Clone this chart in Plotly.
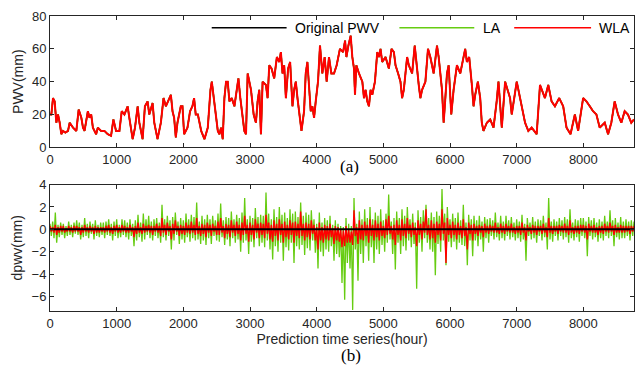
import plotly.graph_objects as go
from plotly.subplots import make_subplots

# ---- top panel: PWV (mm) read at irregular hours ----
pwv_hours = [0,20,45,70,95,120,145,170,195,230,270,295,345,395,430,470,495,518,568,593,618,643,692,717,767,817,866,916,951,991,
             1041,1076,1116,1165,1190,1240,1275,1315,1340,1389,1424,1464,1489,1539,1564,1613,1663,1703,1738,1773,1813,1838,1862,1887,1912,1962,1987,2012,2062,2101,
             2136,2161,2186,2218,2268,2317,2367,2407,2427,2457,2492,2517,2541,2566,2591,2616,2641,2666,2691,2726,2766,2806,2826,2855,2890,2915,2940,2965,2990,3015,
             3055,3089,3114,3139,3164,3189,3239,3264,3289,3323,3363,3403,3438,3463,3488,3513,3538,3572,3602,3637,3662,3687,3712,3752,3772,3811,3836,3861,3886,3911,
             3936,3961,3986,4020,4050,4085,4120,4150,4185,4220,4260,4300,4349,4396,4426,4446,4476,4510,4535,4560,4575,4595,4635,4685,4710,4734,4759,4784,4809,4834,
             4874,4909,4934,4958,4983,5033,5083,5123,5158,5183,5222,5257,5282,5307,5332,5357,5382,5432,5471,5506,5531,5556,5581,5631,5670,5705,5755,5805,5830,5880,
             5905,5930,5955,5980,6019,6054,6104,6154,6204,6228,6253,6288,6328,6353,6378,6418,6453,6477,6502,6553,6603,6653,6700,6727,6777,6827,6901,6926,7001,7076,
             7126,7175,7225,7300,7350,7424,7474,7524,7574,7638,7698,7748,7808,7873,7922,7997,8047,8097,8146,8196,8246,8321,8371,8420,8470,8520,8570,8620,8669,8719,8760]
pwv = [20,20,30,28,15,20,15,8,10,9,10,15,12,10,23,18,12,10,22,18,20,12,8,12,10,10,8,7,17,10,
       10,22,20,25,18,5,12,25,15,5,25,28,20,27,15,5,15,30,25,28,32,22,18,6,15,25,25,8,12,22,
       25,30,20,20,10,5,12,35,40,30,18,10,8,12,5,30,40,40,28,30,25,35,42,30,20,10,8,45,40,35,
       20,15,28,35,8,40,38,30,50,48,42,55,52,58,45,50,30,48,52,25,35,40,30,15,10,22,45,52,35,22,
       25,18,28,40,62,45,55,40,55,45,45,50,60,58,65,55,62,68,55,48,32,50,45,40,30,35,28,25,35,32,
       40,58,55,60,52,55,48,60,58,50,45,40,30,35,45,55,50,45,62,45,38,30,35,40,60,55,45,62,55,35,
       15,30,45,50,20,35,50,45,55,60,52,55,38,25,32,40,30,15,10,15,17,12,28,40,12,40,30,20,40,25,
       15,10,12,8,38,30,38,28,25,30,25,12,8,20,10,30,28,25,22,20,12,15,8,15,28,20,15,22,20,15,17]
la_pwv = pwv
wla_pwv = pwv

# ---- bottom panel: prediction errors dpwv (mm), every 20 h ----
d_hours = list(range(0, 8761, 20))
d_la = [
    0.5,-0.6,0.7,-0.8,1.5,-1.2,0.4,-0.7,0.6,-0.5,0.5,-0.8,0.3,-0.6,0.7,-0.5,0.4,-0.7,0.6,-0.4,
    0.8,-0.5,0.6,-0.9,0.4,-0.7,1.0,-0.6,0.5,-0.8,0.7,-0.4,0.5,-0.9,0.8,-0.6,0.4,-0.7,0.6,-0.5,
    0.6,-0.8,0.7,-0.5,0.9,-0.6,0.5,-1.0,0.7,-0.6,0.9,-0.8,0.4,-0.7,0.9,-0.5,0.8,-0.7,0.6,-0.9,
    0.9,-0.6,0.5,-1.5,0.8,-1.0,1.3,-0.7,0.6,-1.1,1.4,-0.9,0.9,-0.5,1.2,-0.8,0.7,-1.0,0.9,-0.6,
    1.0,-0.8,0.6,-1.2,2.2,-0.7,0.9,-1.0,1.2,-0.6,0.8,-1.8,1.1,-1.0,1.5,-0.5,0.7,-1.3,1.0,-0.9,
    0.8,-1.2,1.4,-0.7,0.9,-1.1,1.3,-0.8,1.1,-1.0,2.4,-0.9,0.7,-1.3,1.2,-1.0,0.9,-1.4,1.3,-0.8,
    0.9,-1.3,1.2,-0.6,0.8,-1.0,1.4,-1.1,2.3,-0.7,0.8,-1.4,1.1,-0.9,1.0,-1.5,1.6,-0.8,0.9,-1.2,
    1.3,-0.9,1.0,-2.0,1.5,-1.2,2.8,-1.0,0.9,-2.2,1.2,-1.1,1.0,-1.6,1.9,-0.8,1.1,-1.5,1.3,-1.2,
    1.2,-1.6,3.3,-1.0,1.4,-1.8,0.9,-2.7,1.8,-1.5,1.1,-2.0,2.0,-1.2,1.3,-2.8,1.5,-1.6,1.0,-1.9,
    1.8,-1.2,1.4,-3.0,1.6,-1.5,1.1,-1.8,2.4,-1.4,1.2,-2.3,1.5,-1.7,1.3,-1.9,1.7,-1.0,0.9,-2.1,
    0.5,-3.5,1.5,-2.0,0.6,-2.4,1.0,-1.8,0.8,-2.0,1.2,-1.5,0.4,-2.8,0.8,-2.2,0.5,-2.5,0.3,-4.8,
    0.2,-6.3,1.0,-3.0,0.5,-3.5,0.3,-7.2,2.8,-1.8,0.5,-4.6,1.6,-2.2,0.9,-3.0,1.8,-1.5,1.0,-2.8,
    2.0,-1.6,0.9,-3.0,1.5,-1.8,1.2,-2.2,1.8,-1.4,0.8,-2.0,1.4,-1.2,3.1,-0.9,0.7,-2.2,1.0,-3.6,
    1.6,-1.2,1.0,-2.2,1.8,-1.5,1.2,-1.9,2.0,-1.0,0.9,-1.6,1.4,-1.3,0.6,-5.3,1.7,-1.2,1.1,-2.0,
    1.7,-0.8,2.2,-1.2,1.0,-1.8,1.5,-2.0,1.1,-4.1,1.6,-1.3,1.2,-2.0,3.6,-1.0,1.4,-3.2,2.0,-1.1,
    0.9,-1.6,1.4,-1.1,1.0,-1.8,1.5,-1.2,0.8,-1.4,2.2,-1.5,0.6,-3.2,1.3,-1.0,0.9,-2.4,1.2,-1.0,
    0.8,-1.5,1.2,-0.9,0.7,-2.0,1.1,-0.8,0.9,-1.2,1.0,-0.6,0.8,-0.9,1.5,-0.7,0.6,-1.0,1.2,-0.8,
    0.7,-1.0,1.2,-0.6,0.8,-0.9,1.1,-0.7,0.6,-1.0,0.9,-0.8,0.7,-1.1,1.3,-0.9,0.5,-2.8,1.0,-0.6,
    0.6,-0.9,1.1,-0.8,0.7,-1.2,0.9,-0.6,0.8,-1.0,1.2,-0.7,0.6,-1.8,2.8,-0.9,0.7,-1.1,0.9,-0.6,
    0.7,-1.0,1.0,-0.6,0.8,-0.9,1.1,-0.7,0.9,-1.2,1.8,-0.8,0.6,-1.0,0.9,-0.7,0.8,-1.1,1.0,-0.6,
    1.0,-0.8,0.7,-2.4,1.1,-0.6,0.8,-0.9,1.0,-0.7,0.6,-1.1,0.9,-0.8,0.7,-1.0,1.2,-0.6,0.7,-0.8,
    1.7,-0.6,0.8,-1.5,1.0,-0.7,0.6,-0.9,1.1,-0.8,0.7,-0.8,0.9,-0.6,0.7,-1.0,0.8,-0.6,0.7]
d_wla = [
    0.3,-0.2,0.2,-0.3,0.4,-0.5,0.2,-0.3,0.3,-0.2,0.3,-0.3,0.1,-0.2,0.3,-0.2,0.2,-0.3,0.3,-0.2,
    0.3,-0.2,0.2,-0.5,0.2,-0.3,0.4,-0.2,0.2,-0.3,0.3,-0.2,0.2,-0.4,0.3,-0.3,0.2,-0.3,0.2,-0.2,
    0.2,-0.3,0.3,-0.2,0.4,-0.3,0.2,-0.4,0.3,-0.2,0.4,-0.3,0.2,-0.3,0.4,-0.2,0.3,-0.3,0.2,-0.3,
    0.4,-0.2,0.2,-0.7,0.3,-0.4,0.6,-0.3,0.2,-0.4,0.5,-0.3,0.3,-0.2,0.4,-0.3,0.3,-0.5,0.3,-0.2,
    0.5,-0.3,0.3,-0.6,1.0,-0.3,0.4,-0.5,0.6,-0.2,0.3,-0.9,0.5,-0.4,0.8,-0.2,0.3,-0.6,0.4,-0.4,
    0.3,-0.5,0.6,-0.3,0.4,-0.4,0.7,-0.3,0.4,-0.5,1.0,-0.4,0.3,-0.6,0.5,-0.4,0.4,-0.7,0.6,-0.3,
    0.4,-0.6,0.5,-0.2,0.3,-0.5,0.7,-0.5,1.0,-0.3,0.3,-0.8,0.5,-0.4,0.4,-0.7,0.8,-0.3,0.4,-0.6,
    0.7,-0.4,0.4,-1.0,0.6,-0.5,1.2,-0.4,0.4,-1.1,0.6,-0.5,0.4,-0.9,0.9,-0.3,0.5,-0.8,0.6,-0.5,
    0.5,-0.8,1.3,-0.4,0.6,-0.9,0.4,-1.1,0.8,-0.6,0.5,-1.0,0.9,-0.5,0.5,-1.2,0.7,-0.7,0.4,-0.9,
    0.8,-0.5,0.6,-1.2,0.7,-0.6,0.5,-0.8,1.6,-0.6,0.5,-1.0,0.6,-0.7,0.5,-0.9,0.8,-0.4,0.4,-1.0,
    0.2,-1.8,0.6,-1.0,0.2,-1.2,0.4,-0.9,0.3,-1.0,0.5,-0.7,0.1,-1.3,0.3,-1.0,0.2,-1.1,0.0,-1.6,
    -0.1,-1.5,0.3,-1.2,0.0,-1.2,-0.2,-1.4,1.7,-0.6,0.2,-1.3,0.8,-0.9,0.4,-1.0,0.7,-0.6,0.4,-1.2,
    0.9,-0.6,0.4,-1.0,0.8,-0.7,0.5,-1.0,0.7,-0.6,0.3,-0.8,0.9,-0.5,1.2,-0.4,0.3,-0.9,0.4,-1.4,
    0.8,-0.5,0.4,-1.0,0.9,-0.6,0.5,-0.8,1.0,-0.4,0.4,-0.7,0.6,-0.5,0.2,-1.5,0.8,-0.5,0.5,-0.9,
    0.7,-0.3,1.8,-0.5,0.4,-0.9,0.8,-0.8,0.5,-1.2,0.7,-0.5,0.5,-1.0,1.8,-0.4,0.6,-3.0,1.0,-0.5,
    0.4,-0.8,0.7,-0.5,0.4,-0.9,0.6,-0.5,0.3,-0.8,0.9,-0.6,0.2,-1.8,0.6,-0.4,0.4,-1.0,0.5,-0.4,
    0.3,-0.6,0.4,-0.3,0.3,-0.7,0.5,-0.3,0.3,-0.4,0.4,-0.2,0.3,-0.3,0.6,-0.3,0.2,-0.4,0.5,-0.3,
    0.3,-0.4,0.5,-0.2,0.3,-0.3,0.5,-0.3,0.2,-0.4,0.3,-0.3,0.3,-0.5,0.6,-0.3,0.2,-1.0,0.4,-0.2,
    0.2,-0.4,0.4,-0.3,0.3,-0.5,0.3,-0.2,0.3,-0.4,0.5,-0.3,0.2,-0.7,1.0,-0.3,0.3,-0.4,0.3,-0.2,
    0.3,-0.4,0.4,-0.2,0.3,-0.3,0.5,-0.3,0.3,-0.5,0.8,-0.3,0.2,-0.4,0.3,-0.3,0.3,-0.4,0.4,-0.2,
    0.4,-0.3,0.3,-0.9,0.5,-0.2,0.3,-0.3,0.4,-0.3,0.2,-0.5,0.3,-0.3,0.3,-0.4,0.5,-0.2,0.3,-0.3,
    0.6,-0.2,0.3,-0.5,0.4,-0.3,0.2,-0.3,0.4,-0.3,0.3,-0.3,0.3,-0.2,0.3,-0.4,0.3,-0.2,0.3]
d_orig_hours = [0, 8760]
d_orig = [0, 0]

x_ticks = [0, 1000, 2000, 3000, 4000, 5000, 6000, 7000, 8000]
top_ticks = [0, 20, 40, 60, 80]
bot_ticks = [-6, -4, -2, 0, 2, 4]

BLACK = "#000000"
GREEN = "#66CC11"
RED = "#FF0000"
AX = "#262626"

fig = make_subplots(rows=2, cols=1, vertical_spacing=0.0)

fig.add_trace(go.Scatter(x=pwv_hours, y=pwv, mode="lines", line=dict(color=BLACK, width=1.5), showlegend=False), 1, 1)
fig.add_trace(go.Scatter(x=pwv_hours, y=la_pwv, mode="lines", line=dict(color=GREEN, width=1.5), showlegend=False), 1, 1)
fig.add_trace(go.Scatter(x=pwv_hours, y=wla_pwv, mode="lines", line=dict(color=RED, width=2.0), showlegend=False), 1, 1)

fig.add_trace(go.Scatter(x=d_hours[:len(d_la)], y=d_la, mode="lines", line=dict(color=GREEN, width=1.3), showlegend=False), 2, 1)
fig.add_trace(go.Scatter(x=d_hours[:len(d_wla)], y=d_wla, mode="lines", line=dict(color=RED, width=1.4), showlegend=False), 2, 1)
fig.add_trace(go.Scatter(x=d_orig_hours, y=d_orig, mode="lines", line=dict(color=BLACK, width=2), showlegend=False), 2, 1)

axis_common = dict(showline=True, linecolor=AX, linewidth=1, mirror="ticks", ticks="inside", ticklen=4,
                   tickcolor=AX, showgrid=False, zeroline=False,
                   tickfont=dict(family="Liberation Sans, Arial", size=13, color=AX))
fig.update_xaxes(range=[0, 8760], tickvals=x_ticks, **axis_common)
fig.update_yaxes(**axis_common)
fig.update_layout(
    xaxis=dict(anchor="y"), yaxis=dict(domain=[0.5548, 1.0], range=[0, 80], tickvals=top_ticks,
                                       title=dict(text="PWV(mm)", standoff=5,
                                                  font=dict(family="Liberation Sans, Arial", size=14, color=AX))),
    xaxis2=dict(anchor="y2", title=dict(text="Prediction time series(hour)", standoff=2,
                                        font=dict(family="Liberation Sans, Arial", size=14, color=AX))),
    yaxis2=dict(domain=[0.0, 0.4286], range=[-7.3, 4], tickvals=bot_ticks,
                title=dict(text="dpwv(mm)", standoff=5,
                           font=dict(family="Liberation Sans, Arial", size=14, color=AX))),
)

def px(xp):
    return (xp - 50) / 585.0
def py(yp):
    return (311 - yp) / 301.0

shapes = []
annotations = []
for (x0, x1, col, label, tx) in [(212, 287, BLACK, "Original PWV", 293), (400, 475, GREEN, "LA", 482), (515, 592, RED, "WLA", 598)]:
    shapes.append(dict(type="line", xref="paper", yref="paper", x0=px(x0), x1=px(x1), y0=py(22), y1=py(22),
                       line=dict(color=col, width=1.6)))
    annotations.append(dict(text=label, xref="paper", yref="paper", x=px(tx), y=py(22), xanchor="left", yanchor="middle",
                            showarrow=False, font=dict(family="Liberation Sans, Arial", size=14, color="#000000")))
annotations.append(dict(text="(a)", xref="paper", yref="paper", x=px(350), y=py(164), xanchor="center", yanchor="middle",
                        showarrow=False, font=dict(family="Liberation Serif, Times New Roman", size=17, color="#000000")))
annotations.append(dict(text="(b)", xref="paper", yref="paper", x=px(352), y=py(356), xanchor="center", yanchor="middle",
                        showarrow=False, font=dict(family="Liberation Serif, Times New Roman", size=17, color="#000000")))

fig.update_layout(width=644, height=376, margin=dict(l=50, r=9, t=10, b=65),
                  paper_bgcolor="white", plot_bgcolor="white", shapes=shapes, annotations=annotations,
                  showlegend=False)

fig.write_html("out.html")
